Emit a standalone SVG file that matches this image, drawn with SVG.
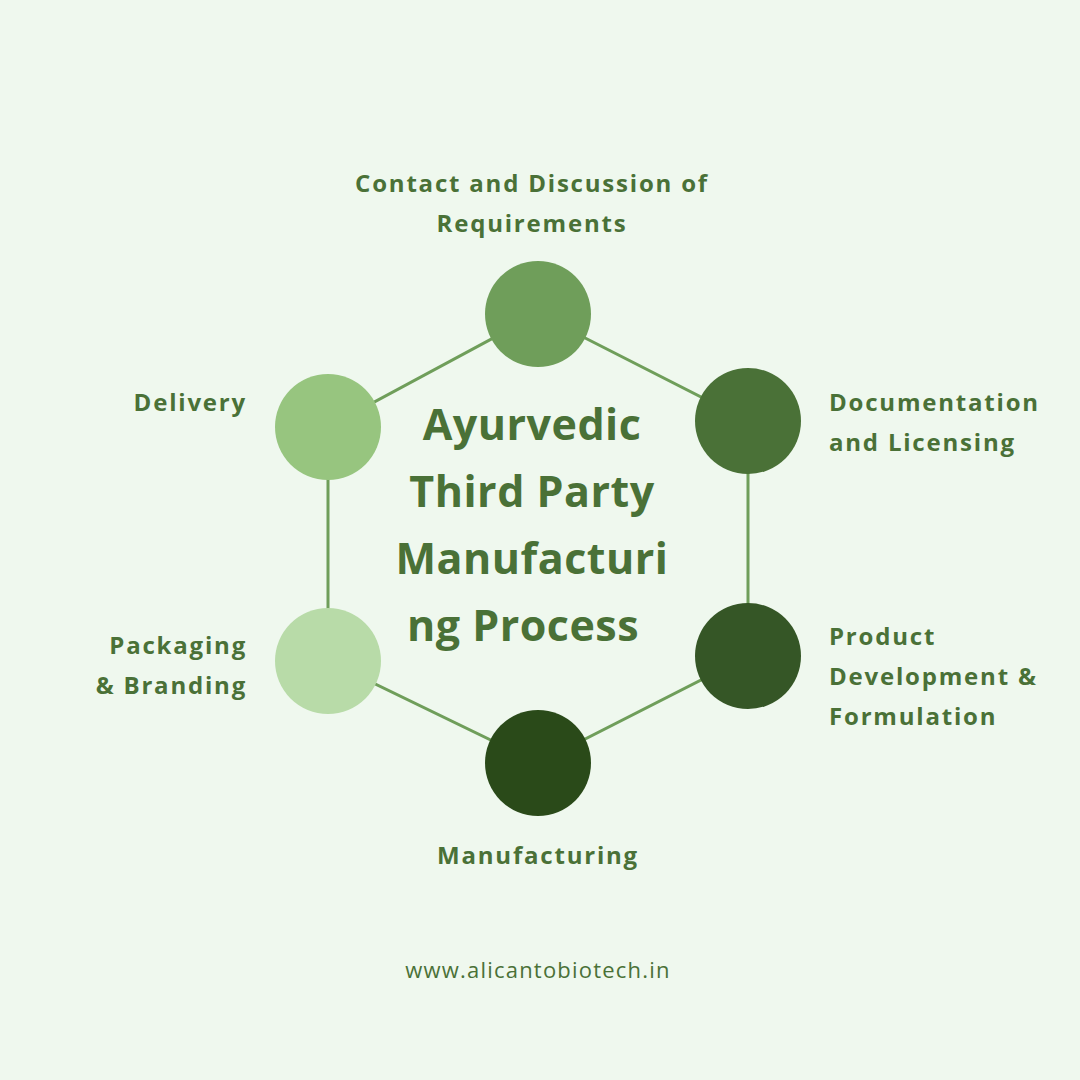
<svg xmlns="http://www.w3.org/2000/svg" width="1080" height="1080" viewBox="0 0 1080 1080">
<style>
.l{font-family:"Open Sans",Lato,sans-serif;font-weight:700;font-size:24px;letter-spacing:1.8px;fill:#4a7137}
.t{font-family:"Open Sans",Lato,sans-serif;font-weight:700;font-size:43px;letter-spacing:0.5px;fill:#4a7137;text-anchor:middle}
.c{stroke:#6f9e5a;stroke-width:3;fill:none}
</style>
<rect width="1080" height="1080" fill="#eff8ee"/>
<g id="connectors">
<polyline class="c" points="538,314 748,421 748,656 538,763 328,661 328,427 538,314"/>
</g>
<g id="n1"><circle cx="538" cy="314" r="53" fill="#6f9e5a"/><text class="l" x="532" y="192" text-anchor="middle">Contact and Discussion of</text><text class="l" x="532" y="232" text-anchor="middle">Requirements</text></g>
<g id="n2"><circle cx="748" cy="421" r="53" fill="#4a7137"/><text class="l" x="829" y="411">Documentation</text><text class="l" x="829" y="451">and Licensing</text></g>
<g id="n3"><circle cx="748" cy="656" r="53" fill="#355626"/><text class="l" x="829" y="645">Product</text><text class="l" x="829" y="685">Development &amp;</text><text class="l" x="829" y="725">Formulation</text></g>
<g id="n4"><circle cx="538" cy="763" r="53" fill="#2a4a19"/><text class="l" x="538" y="864" text-anchor="middle">Manufacturing</text></g>
<g id="n5"><circle cx="328" cy="661" r="53" fill="#b8dba8"/><text class="l" x="247" y="654" text-anchor="end">Packaging</text><text class="l" x="247" y="694" text-anchor="end">&amp; Branding</text></g>
<g id="n6"><circle cx="328" cy="427" r="53" fill="#97c57f"/><text class="l" x="247" y="411" text-anchor="end">Delivery</text></g>
<g id="title"><text class="t" x="532" y="440">Ayurvedic</text><text class="t" x="532" y="507">Third Party</text><text class="t" x="532" y="574">Manufacturi</text><text class="t" x="523" y="641">ng Process</text></g>
<text x="538" y="978" text-anchor="middle" font-family="'Open Sans',Lato,sans-serif" font-size="22" letter-spacing="1.2" fill="#4a7137">www.alicantobiotech.in</text>
</svg>
